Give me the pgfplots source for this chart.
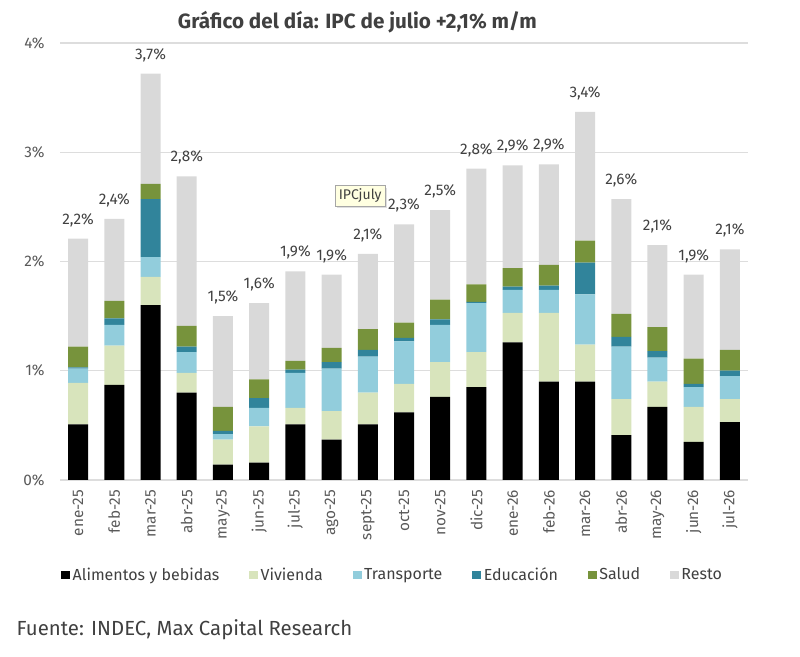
\documentclass[border=0pt]{standalone}
\usepackage{pgfplots}
\pgfplotsset{compat=1.18}
\usepackage{pgfplotstable}
\usepackage{fontspec}
\setmainfont{Fira Sans}
\usetikzlibrary{shadows}
\definecolor{alim}{HTML}{000000}
\definecolor{viv}{HTML}{D8E4BC}
\definecolor{trans}{HTML}{92CDDC}
\definecolor{edu}{HTML}{31849B}
\definecolor{salud}{HTML}{77933C}
\definecolor{resto}{HTML}{D9D9D9}
\definecolor{txt}{HTML}{404040}
\definecolor{tickc}{HTML}{595959}
\definecolor{gridgray}{HTML}{DDDDDD}
\definecolor{tip}{HTML}{FFFFE1}

\pgfplotstableread{
x  mes     alim viv  trans edu  salud resto tot  lab
0  ene-25  0.51 0.38 0.13  0.01 0.19  0.99  2.21 {2,2\%}
1  feb-25  0.87 0.36 0.19  0.06 0.16  0.75  2.39 {2,4\%}
2  mar-25  1.60 0.26 0.18  0.53 0.14  1.01  3.72 {3,7\%}
3  abr-25  0.80 0.18 0.19  0.05 0.19  1.37  2.78 {2,8\%}
4  may-25  0.14 0.23 0.05  0.03 0.22  0.83  1.50 {1,5\%}
5  jun-25  0.16 0.33 0.17  0.09 0.17  0.70  1.62 {1,6\%}
6  jul-25  0.51 0.15 0.32  0.03 0.08  0.82  1.91 {1,9\%}
7  ago-25  0.37 0.26 0.39  0.06 0.13  0.67  1.88 {1,9\%}
8  sept-25 0.51 0.29 0.33  0.06 0.19  0.69  2.07 {2,1\%}
9  oct-25  0.62 0.26 0.39  0.03 0.14  0.90  2.34 {2,3\%}
10 nov-25  0.76 0.32 0.34  0.05 0.18  0.82  2.47 {2,5\%}
11 dic-25  0.85 0.32 0.45  0.01 0.16  1.06  2.85 {2,8\%}
12 ene-26  1.26 0.27 0.21  0.03 0.17  0.94  2.88 {2,9\%}
13 feb-26  0.90 0.63 0.21  0.04 0.19  0.92  2.89 {2,9\%}
14 mar-26  0.90 0.34 0.46  0.29 0.20  1.18  3.37 {3,4\%}
15 abr-26  0.41 0.33 0.48  0.09 0.21  1.05  2.57 {2,6\%}
16 may-26  0.67 0.23 0.22  0.06 0.22  0.75  2.15 {2,1\%}
17 jun-26  0.35 0.32 0.18  0.03 0.23  0.77  1.88 {1,9\%}
18 jul-26  0.53 0.21 0.21  0.05 0.19  0.92  2.11 {2,1\%}
}\datatable

\begin{document}
\begin{tikzpicture}
\path[use as bounding box] (0,0) rectangle (600pt,492.75pt);
\begin{axis}[
  at={(45pt,132.75pt)}, anchor=south west,
  scale only axis, width=516pt, height=327.75pt,
  ybar stacked, bar width=15pt,
  xmin=-0.5, xmax=18.5, ymin=0, ymax=4,
  axis x line=bottom, axis y line=left,
  axis line style={draw=none},
  ymajorgrids=true, xmajorgrids=false,
  grid style={draw=gridgray, line width=0.8pt},
  ytick={0,1,2,3,4},
  yticklabels={0\%,1\%,2\%,3\%,4\%},
  xtick=data,
  xticklabels from table={\datatable}{mes},
  major tick length=0pt,
  tick label style={text=tickc, font=\fontsize{11.5}{12}\selectfont},
  xticklabel style={rotate=90, anchor=east, xshift=-4pt},
  yticklabel style={xshift=-8pt},
  clip=false,
  legend style={at={(0.484,-0.217)}, anchor=center, legend columns=6, draw=none,
    font=\fontsize{12}{14}\selectfont, text=txt,
    /tikz/every even column/.append style={column sep=20.5pt}},
  legend image code/.code={\fill[#1,draw=none] (0pt,-3.5pt) rectangle (6.5pt,3pt);},
  every axis plot/.append style={draw=none},
]
\addplot+[fill=alim] table[x=x,y=alim]{\datatable};
\addlegendentry{Alimentos y bebidas}
\addplot+[fill=viv] table[x=x,y=viv]{\datatable};
\addlegendentry{Vivienda}
\addplot+[fill=trans] table[x=x,y=trans]{\datatable};
\addlegendentry{Transporte}
\addplot+[fill=edu] table[x=x,y=edu]{\datatable};
\addlegendentry{Educación}
\addplot+[fill=salud] table[x=x,y=salud]{\datatable};
\addlegendentry{Salud}
\addplot+[fill=resto] table[x=x,y=resto]{\datatable};
\addlegendentry{Resto}
\node[draw=gray!70, fill=tip, inner sep=2.5pt, text=txt,
  font=\fontsize{10.5}{11}\selectfont, drop shadow={opacity=0.25, shadow xshift=1.5pt, shadow yshift=-1.5pt}]
  at (axis cs:7.79,2.60) {IPCjuly};
\end{axis}
\begin{axis}[
  at={(45pt,132.75pt)}, anchor=south west,
  scale only axis, width=516pt, height=327.75pt,
  xmin=-0.5, xmax=18.5, ymin=0, ymax=4,
  hide axis, clip=false,
]
\addplot[draw=none, mark=none,
  nodes near coords, point meta=explicit symbolic,
  nodes near coords style={anchor=center, yshift=14pt, text=txt, font=\fontsize{11.5}{12}\selectfont}]
  table[x=x,y=tot,meta=lab]{\datatable};
\end{axis}
\node[text=txt, font=\bfseries\fontsize{15.5}{17}\selectfont] at (268pt,476pt) {Gráfico del día: IPC de julio +2,1\% m/m};
\node[text=txt, anchor=west, font=\fontsize{15.3}{17}\selectfont] at (9pt,20.25pt) {Fuente: INDEC, Max Capital Research};
\end{tikzpicture}
\end{document}
